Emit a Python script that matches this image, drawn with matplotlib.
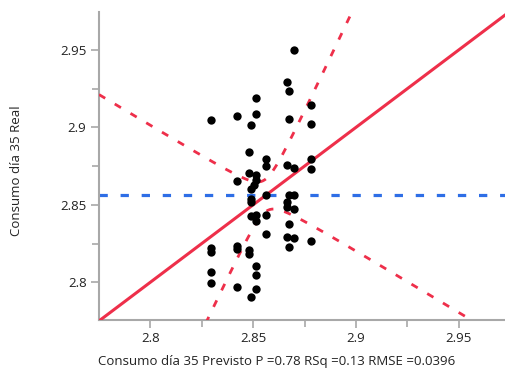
import numpy as np
import matplotlib
matplotlib.use("Agg")
import matplotlib.pyplot as plt
from matplotlib.ticker import FixedLocator, FormatStrFormatter

predicted = [
    2.8294, 2.8294, 2.8294, 2.8294, 2.8294,
    2.8422, 2.8422, 2.8422, 2.8422, 2.8422,
    2.8490, 2.8482, 2.8482, 2.8490, 2.8490, 2.8490, 2.8490, 2.8482, 2.8482, 2.8490,
    2.8513, 2.8513, 2.8513, 2.8513, 2.8504, 2.8513, 2.8513, 2.8513, 2.8513, 2.8513,
    2.8564, 2.8564, 2.8564, 2.8564, 2.8564,
    2.8663, 2.8663, 2.8663, 2.8663, 2.8663,
    2.8676, 2.8676, 2.8676, 2.8676, 2.8676,
    2.8700, 2.8700, 2.8700, 2.8700, 2.8700,
    2.8783, 2.8783, 2.8783, 2.8783, 2.8783,
]
actual = [
    2.9046, 2.8223, 2.8196, 2.8065, 2.7995,
    2.9074, 2.8654, 2.8231, 2.8213, 2.7966,
    2.9014, 2.8843, 2.8704, 2.8602, 2.8535, 2.8518, 2.8425, 2.8207, 2.8183, 2.7905,
    2.9192, 2.9085, 2.8693, 2.8661, 2.8628, 2.8435, 2.8396, 2.8105, 2.8045, 2.7957,
    2.8796, 2.8753, 2.8566, 2.8435, 2.8314,
    2.9293, 2.8755, 2.8517, 2.8484, 2.8294,
    2.9233, 2.9054, 2.8566, 2.8375, 2.8226,
    2.9502, 2.8738, 2.8566, 2.8473, 2.8284,
    2.9145, 2.9022, 2.8796, 2.8728, 2.8267,
]

mean_actual = 2.856      # horizontal mean line
band_center = 0.0105     # confidence half-width at the mean
band_slope = 1.8         # growth of the confidence half-width

x_range = (2.775, 2.9725)
y_range = (2.7756, 2.9745)
major_ticks = [2.8, 2.85, 2.9, 2.95]
minor_ticks = [2.825, 2.875, 2.925]

x_label = "Consumo día 35 Previsto P =0.78 RSq =0.13 RMSE =0.0396"
y_label = "Consumo día 35 Real"

plt.rcParams["font.family"] = ["Open Sans", "DejaVu Sans"]

red = "#EE2F4A"
blue = "#2E6EE6"
grey = "#A8A8A8"

fig = plt.figure(figsize=(5.05, 3.72), dpi=100)
ax = fig.add_axes([99 / 505, 52 / 372, 406 / 505, 308 / 372])

xs = np.linspace(x_range[0], x_range[1], 400)
fit = xs  # actual vs predicted fit line (slope 1)
half = np.sqrt(band_center ** 2 + (band_slope * (xs - mean_actual)) ** 2)

ax.axhline(mean_actual, color=blue, lw=2.3, ls=(0, (2.6, 4.0)), zorder=2)
ax.plot(xs, fit, color=red, lw=2.2, zorder=3)
ax.plot(xs, fit + half, color=red, lw=2.0, ls=(0, (2.6, 4.0)), zorder=3)
ax.plot(xs, fit - half, color=red, lw=2.0, ls=(0, (2.6, 4.0)), zorder=3)

ax.scatter(predicted, actual, s=36, color="black", zorder=4, linewidths=0)

ax.set_xlim(*x_range)
ax.set_ylim(*y_range)

for side in ["top", "right"]:
    ax.spines[side].set_visible(False)
for side in ["left", "bottom"]:
    ax.spines[side].set_color(grey)
    ax.spines[side].set_linewidth(1.5)

for axis in (ax.xaxis, ax.yaxis):
    axis.set_major_locator(FixedLocator(major_ticks))
    axis.set_minor_locator(FixedLocator(minor_ticks))
    axis.set_major_formatter(FormatStrFormatter("%g"))
ax.tick_params(which="major", length=6, width=1.2, color=grey, labelsize=9.5,
               labelcolor="#222222", pad=3)
ax.tick_params(which="minor", length=5, width=1.2, color=grey)

fig.text(277 / 505, 1 - 362 / 372, x_label, ha="center", va="center",
         fontsize=9.5, color="#222222")
fig.text(17 / 505, 1 - 171 / 372, y_label, ha="center", va="center",
         rotation=90, fontsize=9.5, color="#222222")

fig.savefig("out.png", dpi=100)
